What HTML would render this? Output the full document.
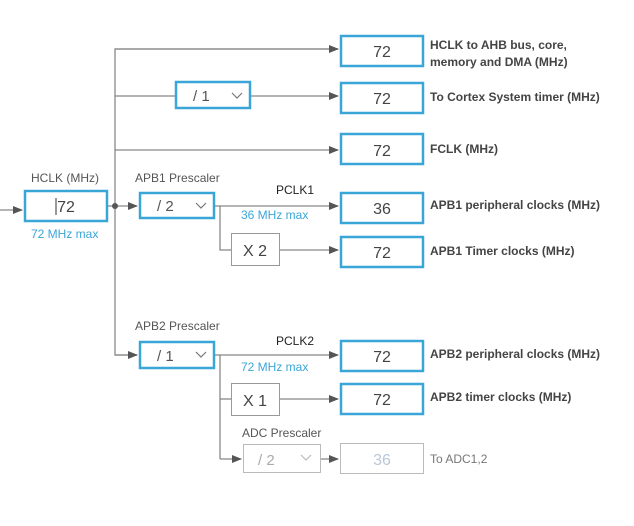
<!DOCTYPE html>
<html><head><style>
body{margin:0;background:#fff;}
svg text{font-family:"Liberation Sans",Arial,sans-serif;}
</style></head><body>
<svg width="634" height="521" viewBox="0 0 634 521" xmlns="http://www.w3.org/2000/svg">
<defs>
<marker id="a" markerWidth="10" markerHeight="8" refX="9" refY="4" orient="auto" markerUnits="userSpaceOnUse"><path d="M0,0 L10,4 L0,8 z" fill="#555"/></marker>
</defs>
<g stroke="#888" stroke-width="1.3" fill="none">
<line x1="0" y1="210" x2="22" y2="210" marker-end="url(#a)"/>
<line x1="108" y1="206" x2="137" y2="206" marker-end="url(#a)"/>
<polyline points="338,49 115,49 115,355 137,355" />
<line x1="115" y1="49" x2="338" y2="49" marker-end="url(#a)"/>
<line x1="115" y1="355" x2="137" y2="355" marker-end="url(#a)"/>
<line x1="115" y1="96" x2="175" y2="96"/>
<line x1="251" y1="96" x2="338" y2="96" marker-end="url(#a)"/>
<line x1="115" y1="150" x2="338" y2="150" marker-end="url(#a)"/>
<line x1="215" y1="206" x2="338" y2="206" marker-end="url(#a)"/>
<polyline points="220,206 220,250 231,250"/>
<line x1="279" y1="250" x2="338" y2="250" marker-end="url(#a)"/>
<line x1="215" y1="355" x2="338" y2="355" marker-end="url(#a)"/>
<line x1="220" y1="355" x2="220" y2="459"/>
<line x1="220" y1="399" x2="231" y2="399"/>
<line x1="279" y1="399" x2="338" y2="399" marker-end="url(#a)"/>
<line x1="220" y1="459" x2="241" y2="459" marker-end="url(#a)"/>
<line x1="320" y1="459" x2="338" y2="459" marker-end="url(#a)"/>
</g>
<circle cx="115" cy="206" r="3" fill="#555"/>
<g stroke="#3aa6d8" stroke-width="2.5" fill="#fff">
<rect x="25" y="191" width="82" height="30"/>
<rect x="176" y="82" width="74" height="26"/>
<rect x="140" y="193" width="74" height="25"/>
<rect x="140" y="342" width="74" height="26"/>
<rect x="341" y="36" width="82" height="30"/>
<rect x="341" y="83" width="82" height="30"/>
<rect x="341" y="134" width="82" height="30"/>
<rect x="341" y="193" width="82" height="30"/>
<rect x="341" y="237" width="82" height="30"/>
<rect x="341" y="341" width="82" height="30"/>
<rect x="341" y="384" width="82" height="30"/>
</g>
<g stroke="#999" stroke-width="1" fill="#fff">
<rect x="231.5" y="233.5" width="48" height="32"/>
<rect x="231.5" y="383.5" width="48" height="32"/>
</g>
<g stroke="#bbb" stroke-width="1" fill="#fff">
<rect x="243.5" y="444.5" width="77" height="28"/>
<rect x="340.5" y="443.5" width="83" height="30"/>
</g>
<g font-size="16" fill="#444" text-anchor="middle">
<text x="66" y="212">72</text>
<text x="382" y="57">72</text>
<text x="382" y="104">72</text>
<text x="382" y="156">72</text>
<text x="382" y="214">36</text>
<text x="382" y="258">72</text>
<text x="382" y="362">72</text>
<text x="382" y="405">72</text>
<text x="255" y="256">X 2</text>
<text x="255" y="406">X 1</text>
<text x="382" y="465" fill="#b8c8d8">36</text>
</g>
<line x1="56" y1="198" x2="56" y2="215" stroke="#333" stroke-width="1"/>
<g font-size="15" fill="#555">
<text x="193" y="101">/ 1</text>
<text x="157" y="211">/ 2</text>
<text x="157" y="361">/ 1</text>
<text x="258" y="465" fill="#aaa">/ 2</text>
</g>
<g fill="none" stroke="#777" stroke-width="1.2">
<polyline points="232,93 237,98 242,93"/>
<polyline points="196,203 201,208 206,203"/>
<polyline points="196,352 201,357 206,352"/>
<polyline points="301,455 306,460 311,455" stroke="#bbb"/>
</g>
<g font-size="12" fill="#555">
<text x="31" y="182">HCLK (MHz)</text>
<text x="135" y="182">APB1 Prescaler</text>
<text x="135" y="330">APB2 Prescaler</text>
<text x="242" y="437">ADC Prescaler</text>
</g>
<g font-size="12" fill="#3aa6d8">
<text x="31" y="238">72 MHz max</text>
<text x="241" y="219">36 MHz max</text>
<text x="241" y="371">72 MHz max</text>
</g>
<g font-size="12" fill="#222">
<text x="276" y="194">PCLK1</text>
<text x="276" y="345">PCLK2</text>
</g>
<g font-size="12" fill="#444" font-weight="bold">
<text x="430" y="49">HCLK to AHB bus, core,</text>
<text x="430" y="66">memory and DMA (MHz)</text>
<text x="430" y="101">To Cortex System timer (MHz)</text>
<text x="430" y="153">FCLK (MHz)</text>
<text x="430" y="209">APB1 peripheral clocks (MHz)</text>
<text x="430" y="255">APB1 Timer clocks (MHz)</text>
<text x="430" y="358">APB2 peripheral clocks (MHz)</text>
<text x="430" y="401">APB2 timer clocks (MHz)</text>
</g>
<text x="430" y="463" font-size="12" fill="#777">To ADC1,2</text>
</svg>
</body></html>
